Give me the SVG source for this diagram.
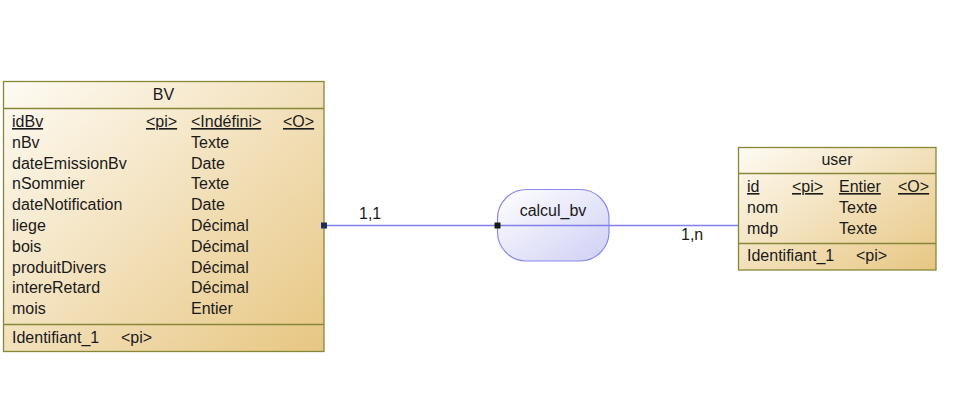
<svg xmlns="http://www.w3.org/2000/svg" width="955" height="413" viewBox="0 0 955 413">
<defs>
<linearGradient id="gEnt" x1="0" y1="0" x2="1" y2="1">
<stop offset="0" stop-color="#fefbf4"/>
<stop offset="1" stop-color="#e7c682"/>
</linearGradient>
<linearGradient id="gAsso" x1="0" y1="0" x2="1" y2="1">
<stop offset="0" stop-color="#ffffff"/>
<stop offset="1" stop-color="#cfcff5"/>
</linearGradient>
<style>
.box{fill:url(#gEnt);stroke:#878738;stroke-width:1.3}
.sep{stroke:#878738;stroke-width:1.3}
.t{font-family:"Liberation Sans",Arial,sans-serif;font-size:16px;fill:#1a1a1a}
.u{text-decoration:underline}
.mid{text-anchor:middle}
.asso{fill:url(#gAsso);stroke:#8a8aee;stroke-width:1.2}
.link{stroke:#8080e8;stroke-width:1.3;fill:none}
</style>
</defs>
<rect width="955" height="413" fill="#ffffff"/>
<g id="BV">
<rect class="box" x="3.5" y="81.5" width="320.5" height="270"/>
<line class="sep" x1="3.5" y1="108.5" x2="324" y2="108.5"/>
<line class="sep" x1="3.5" y1="324.5" x2="324" y2="324.5"/>
<text class="t mid" x="163.5" y="100">BV</text>
<text class="t u" x="12" y="127">idBv</text>
<text class="t u" x="146" y="127">&lt;pi&gt;</text>
<text class="t u" x="191" y="127">&lt;Indéfini&gt;</text>
<text class="t u" x="283" y="127">&lt;O&gt;</text>
<text class="t" x="12" y="147.8">nBv</text><text class="t" x="191" y="147.8">Texte</text>
<text class="t" x="12" y="168.6">dateEmissionBv</text><text class="t" x="191" y="168.6">Date</text>
<text class="t" x="12" y="189.4">nSommier</text><text class="t" x="191" y="189.4">Texte</text>
<text class="t" x="12" y="210.2">dateNotification</text><text class="t" x="191" y="210.2">Date</text>
<text class="t" x="12" y="231">liege</text><text class="t" x="191" y="231">Décimal</text>
<text class="t" x="12" y="251.8">bois</text><text class="t" x="191" y="251.8">Décimal</text>
<text class="t" x="12" y="272.6">produitDivers</text><text class="t" x="191" y="272.6">Décimal</text>
<text class="t" x="12" y="293.4">intereRetard</text><text class="t" x="191" y="293.4">Décimal</text>
<text class="t" x="12" y="314.2">mois</text><text class="t" x="191" y="314.2">Entier</text>
<text class="t" x="12" y="343">Identifiant_1</text>
<text class="t" x="121" y="343">&lt;pi&gt;</text>
</g>
<g id="user">
<rect class="box" x="738.5" y="147.5" width="197.5" height="122.5"/>
<line class="sep" x1="738.5" y1="173.5" x2="936" y2="173.5"/>
<line class="sep" x1="738.5" y1="243.5" x2="936" y2="243.5"/>
<text class="t mid" x="837" y="165">user</text>
<text class="t u" x="747" y="192">id</text>
<text class="t u" x="792" y="192">&lt;pi&gt;</text>
<text class="t u" x="839" y="192">Entier</text>
<text class="t u" x="898" y="192">&lt;O&gt;</text>
<text class="t" x="747" y="212.8">nom</text><text class="t" x="839" y="212.8">Texte</text>
<text class="t" x="747" y="233.6">mdp</text><text class="t" x="839" y="233.6">Texte</text>
<text class="t" x="747" y="261">Identifiant_1</text>
<text class="t" x="856" y="261">&lt;pi&gt;</text>
</g>
<g id="calcul_bv">
<rect class="asso" x="497.5" y="189.5" width="111.5" height="71.5" rx="29" ry="29"/>
<text class="t mid" x="553" y="216">calcul_bv</text>
</g>
<g id="connectors">
<line class="link" x1="324" y1="225.5" x2="738" y2="225.5"/>
<rect x="321" y="222.5" width="6" height="6" fill="#1d2d5c"/>
<rect x="494.5" y="222.5" width="6" height="6" fill="#1a1a0a"/>
<text class="t" x="359" y="219">1,1</text>
<text class="t" x="681" y="240">1,n</text>
</g>
</svg>
